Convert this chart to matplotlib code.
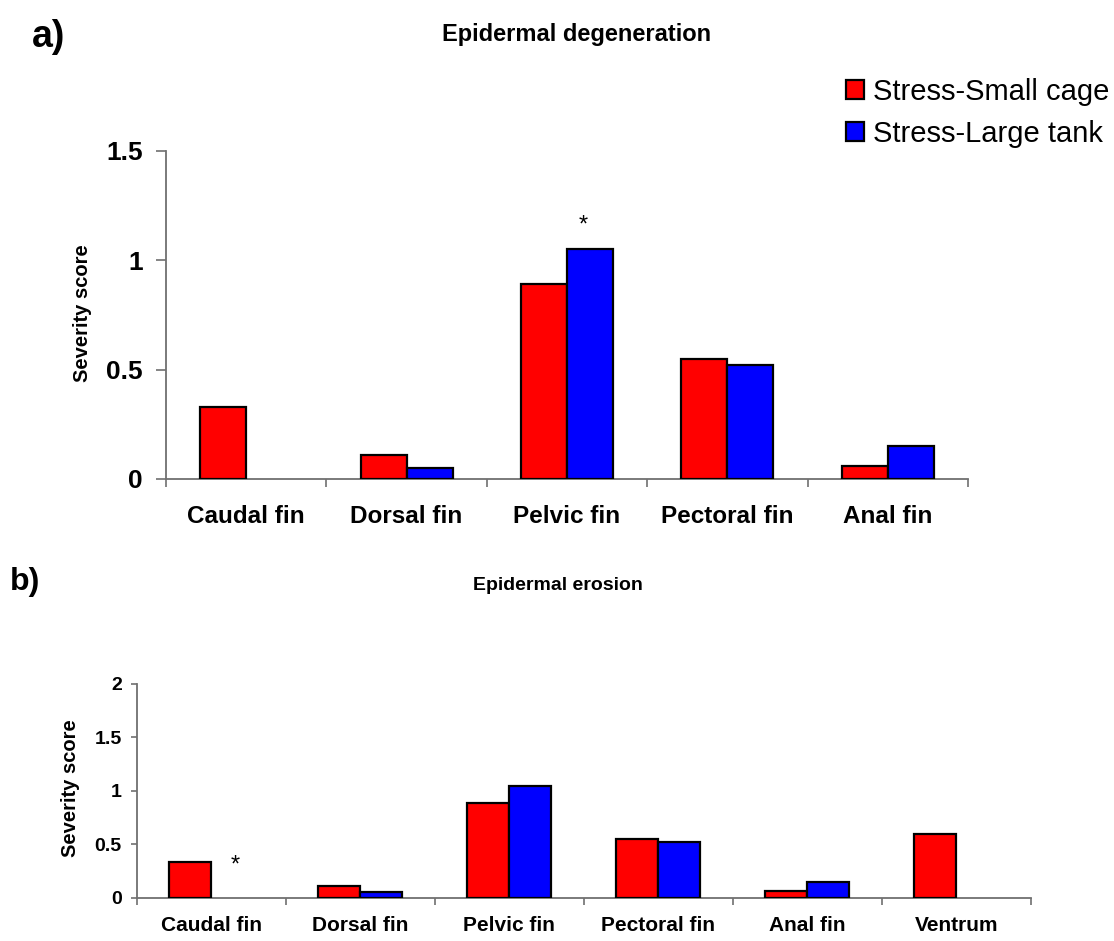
import numpy as np
import matplotlib
matplotlib.use("Agg")
import matplotlib.pyplot as plt
from matplotlib.patches import Patch

plt.rcParams['font.family'] = ['Liberation Sans', 'DejaVu Sans']

# ---- data -------------------------------------------------------------
series_names = ['Stress-Small cage', 'Stress-Large tank']
series_colors = ['#ff0000', '#0000ff']

categories_a = ['Caudal fin', 'Dorsal fin', 'Pelvic fin', 'Pectoral fin', 'Anal fin']
small_cage_a = [0.33, 0.11, 0.89, 0.55, 0.06]
large_tank_a = [0.00, 0.05, 1.05, 0.52, 0.15]
yticks_a = [0, 0.5, 1, 1.5]
yticklabels_a = ['0', '0.5', '1', '1.5']

categories_b = ['Caudal fin', 'Dorsal fin', 'Pelvic fin', 'Pectoral fin', 'Anal fin', 'Ventrum']
small_cage_b = [0.33, 0.11, 0.89, 0.55, 0.06, 0.60]
large_tank_b = [0.00, 0.05, 1.05, 0.52, 0.15, 0.00]
yticks_b = [0, 0.5, 1, 1.5, 2]
yticklabels_b = ['0', '0.5', '1', '1.5', '2']

W, H = 1114, 941
fig = plt.figure(figsize=(W / 100, H / 100), dpi=100)
fig.patch.set_facecolor('white')

SPINE = '#707070'


def px_rect(x0, y0, x1, y1):
    return [x0 / W, 1 - y1 / H, (x1 - x0) / W, (y1 - y0) / H]


def grouped_bars(ax, cats, s1, s2, width, ylim, yticks, yticklabels,
                 ytick_fs, xtick_fs, ytick_len, xtick_len, ypad, xpad):
    x = np.arange(len(cats))
    for vals, col, off in ((s1, series_colors[0], -width / 2),
                           (s2, series_colors[1], width / 2)):
        lw = [1.6 if v > 0 else 0 for v in vals]
        ax.bar(x + off, vals, width=width, color=col, edgecolor='black',
               linewidth=lw, zorder=3)
    ax.set_xlim(-0.5, len(cats) - 0.5)
    ax.set_ylim(*ylim)
    for s in ('top', 'right'):
        ax.spines[s].set_visible(False)
    for s in ('left', 'bottom'):
        ax.spines[s].set_color(SPINE)
        ax.spines[s].set_linewidth(1.3)
    ax.set_yticks(yticks)
    ax.set_yticklabels(yticklabels, fontsize=ytick_fs, fontweight='bold')
    ax.tick_params(axis='y', length=ytick_len, width=1.2, color=SPINE,
                   pad=ypad, direction='out')
    ax.set_xticks(x)
    ax.set_xticklabels(cats, fontsize=xtick_fs, fontweight='bold')
    ax.tick_params(axis='x', which='major', length=0, pad=xpad)
    ax.set_xticks(np.arange(len(cats) + 1) - 0.5, minor=True)
    ax.tick_params(axis='x', which='minor', length=xtick_len, width=1.2,
                   color=SPINE, direction='out')
    return x


# ---- panel a: epidermal degeneration ---------------------------------
ax_a = fig.add_axes(px_rect(166, 151, 968, 479))
bw_a = 0.287
xa = grouped_bars(ax_a, categories_a, small_cage_a, large_tank_a, bw_a,
                  (0, 1.5), yticks_a, yticklabels_a,
                  19, 17.5, 7, 6, 9.5, 19)
ax_a.annotate('*', xy=(xa[2] + bw_a / 2, large_tank_a[2]), xytext=(-5, 17),
              textcoords='offset points', ha='center', va='center',
              fontsize=17)

# ---- panel b: epidermal erosion --------------------------------------
ax_b = fig.add_axes(px_rect(137, 684, 1030.7, 897.7))
bw_b = 0.282
xb = grouped_bars(ax_b, categories_b, small_cage_b, large_tank_b, bw_b,
                  (0, 2), yticks_b, yticklabels_b,
                  14, 15, 4, 5, 7, 13)
ax_b.annotate('*', xy=(xb[0] + bw_b / 2, small_cage_b[0]), xytext=(2, -2),
              textcoords='offset points', ha='center', va='center',
              fontsize=17)

# ---- axis titles and labels ------------------------------------------
fig.text(83 / W, 1 - 313 / H, 'Severity score', rotation=90, ha='center',
         va='center', fontsize=14.5, fontweight='bold')
fig.text(71 / W, 1 - 788 / H, 'Severity score', rotation=90, ha='center',
         va='center', fontsize=14.5, fontweight='bold')

fig.text(577 / W, 1 - 34 / H, 'Epidermal degeneration', ha='center',
         va='center', fontsize=17, fontweight='bold')
fig.text(558 / W, 1 - 585 / H, 'Epidermal erosion', ha='center',
         va='center', fontsize=14, fontweight='bold')

fig.text(32 / W, 1 - 37 / H, 'a)', ha='left', va='center', fontsize=27,
         fontweight='bold')
fig.text(10 / W, 1 - 582 / H, 'b)', ha='left', va='center', fontsize=23,
         fontweight='bold')

# ---- legend ----------------------------------------------------------
handles = [Patch(facecolor=c, edgecolor='black', linewidth=1.6)
           for c in series_colors]
fig.legend(handles, series_names, loc='upper left',
           bbox_to_anchor=(846 / W, 1 - 78 / H), frameon=False,
           fontsize=21, handlelength=0.62, handleheight=0.62,
           handletextpad=0.3, labelspacing=0.47, borderpad=0,
           borderaxespad=0)

fig.savefig('out.png', dpi=100, facecolor='white')
